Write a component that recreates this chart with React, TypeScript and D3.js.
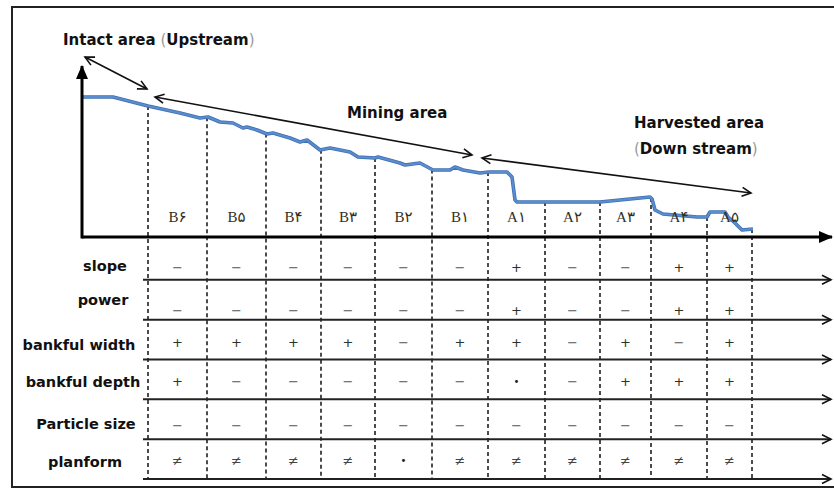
import React, { useEffect, useRef } from 'react';
import * as d3 from 'd3';

// river long profile (relative distance / relative elevation)
const profileDistance = [0, 31, 66, 98, 118, 126, 138, 151, 161, 165, 175, 185, 191, 208, 218, 225, 238, 248, 268, 276, 293, 296, 318, 323, 338, 351, 368, 373, 381, 398, 407, 425, 430, 433, 435, 463, 518, 568, 570, 573, 581, 615, 625, 628, 643, 646, 653, 660, 671];
const profileElevation = [140, 140, 131, 124, 119, 120, 115, 114, 109, 110, 107, 103, 104, 99, 95, 97, 87, 89, 85, 80, 79, 80, 74, 72, 74, 67, 67, 70, 67, 64, 65, 65, 60, 37, 35, 35, 35, 40, 38, 27, 23, 20, 20, 25, 25, 20, 14, 7, 8];

const sectionBounds = [66, 125, 184, 239, 293, 350, 406, 463, 518, 569, 625, 670];
const sections = ['B۶', 'B۵', 'B۴', 'B۳', 'B۲', 'B۱', 'A۱', 'A۲', 'A۳', 'A۴', 'A۵'];

const rowLabels = ['slope', 'power', 'bankful width', 'bankful depth', 'Particle size', 'planform'];
const slope = ['−', '−', '−', '−', '−', '−', '+', '−', '−', '+', '+'];
const power = ['−', '−', '−', '−', '−', '−', '+', '−', '−', '+', '+'];
const bankfulWidth = ['+', '+', '+', '+', '−', '+', '+', '−', '+', '−', '+'];
const bankfulDepth = ['+', '−', '−', '−', '−', '−', '•', '−', '+', '+', '+'];
const particleSize = ['−', '−', '−', '−', '−', '−', '−', '−', '−', '−', '−'];
const planform = ['≠', '≠', '≠', '≠', '•', '≠', '≠', '≠', '≠', '≠', '≠'];

const W = 834;
const H = 488;
const FONT = '"DejaVu Sans", Verdana, sans-serif';

const App = () => {
  const ref = useRef<SVGSVGElement>(null);

  useEffect(() => {
    const svg = d3.select(ref.current);
    svg.selectAll('*').remove();

    const x = d3.scaleLinear().domain([0, 750]).range([82, 832]);
    const y = d3.scaleLinear().domain([0, 171]).range([237, 66]);
    const rows = d3.scaleBand().domain(rowLabels).range([240, 479]);
    const cells = [slope, power, bankfulWidth, bankfulDepth, particleSize, planform];
    const labelCentre = [105, 103, 79, 83, 86, 85];
    const labelNudge = [11, 5, 10, 8, 10, 8];
    const symbolNudge = [8, 11, 3, 2, 6, 1];

    const elevAt = (d: number) => {
      const i = d3.bisectLeft(profileDistance, d);
      if (i <= 0) return profileElevation[0];
      if (i >= profileDistance.length) return profileElevation[profileElevation.length - 1];
      const t = (d - profileDistance[i - 1]) / (profileDistance[i] - profileDistance[i - 1]);
      return profileElevation[i - 1] + t * (profileElevation[i] - profileElevation[i - 1]);
    };

    const defs = svg.append('defs');
    defs.append('marker').attr('id', 'solid').attr('markerUnits', 'userSpaceOnUse')
      .attr('markerWidth', 14).attr('markerHeight', 12).attr('refX', 13).attr('refY', 6)
      .attr('orient', 'auto')
      .append('path').attr('d', 'M0,0 L14,6 L0,12 Z').attr('fill', '#000');
    defs.append('marker').attr('id', 'open').attr('markerUnits', 'userSpaceOnUse')
      .attr('markerWidth', 12).attr('markerHeight', 12).attr('refX', 10).attr('refY', 6)
      .attr('orient', 'auto-start-reverse')
      .append('path').attr('d', 'M1,1.5 L10,6 L1,10.5').attr('fill', 'none')
      .attr('stroke', '#111').attr('stroke-width', 1.6);

    svg.append('rect').attr('width', W).attr('height', H).attr('fill', '#fff');
    svg.append('rect').attr('x', 12).attr('y', 7).attr('width', 840).attr('height', 480)
      .attr('fill', 'none').attr('stroke', '#222').attr('stroke-width', 2);

    // section boundaries
    svg.append('g').selectAll('line').data(sectionBounds).enter().append('line')
      .attr('x1', (d) => x(d)).attr('x2', (d) => x(d))
      .attr('y1', (d) => y(elevAt(d))).attr('y2', 479)
      .attr('stroke', '#111').attr('stroke-width', 1.5).attr('stroke-dasharray', '4,3');

    // table row arrows
    svg.append('g').selectAll('line').data(rowLabels).enter().append('line')
      .attr('x1', 143).attr('x2', 831)
      .attr('y1', (d) => (rows(d) as number) + rows.bandwidth())
      .attr('y2', (d) => (rows(d) as number) + rows.bandwidth())
      .attr('stroke', '#222').attr('stroke-width', 2).attr('marker-end', 'url(#open)');

    // profile
    const line = d3.line<number>().x((d) => x(d)).y((d, i) => y(profileElevation[i]));
    svg.append('path').datum(profileDistance).attr('d', line)
      .attr('fill', 'none').attr('stroke', '#3f6fae').attr('stroke-width', 3.6)
      .attr('stroke-linejoin', 'round');
    svg.append('path').datum(profileDistance).attr('d', line)
      .attr('fill', 'none').attr('stroke', '#5a8dd0').attr('stroke-width', 2)
      .attr('stroke-linejoin', 'round');

    // axes
    svg.append('line').attr('x1', 82).attr('x2', 832).attr('y1', y(0)).attr('y2', y(0))
      .attr('stroke', '#000').attr('stroke-width', 3).attr('marker-end', 'url(#solid)');
    svg.append('line').attr('x1', 82).attr('x2', 82).attr('y1', y(0) + 1.5).attr('y2', y(171))
      .attr('stroke', '#000').attr('stroke-width', 3).attr('marker-end', 'url(#solid)');

    // section labels
    svg.append('g').selectAll('text').data(sections).enter().append('text')
      .attr('x', (d, i) => (x(sectionBounds[i]) + x(sectionBounds[i + 1])) / 2)
      .attr('y', 222).attr('text-anchor', 'middle')
      .attr('font-family', '"Liberation Serif", "DejaVu Serif", "DejaVu Sans", serif')
      .attr('font-size', 15).attr('fill', '#33301f').text((d) => d);

    // row labels
    svg.append('g').selectAll('text').data(rowLabels).enter().append('text')
      .attr('x', (d, i) => labelCentre[i])
      .attr('y', (d, i) => (rows(d) as number) + rows.bandwidth() / 2 + labelNudge[i])
      .attr('text-anchor', 'middle').attr('font-family', FONT).attr('font-weight', 'bold')
      .attr('font-size', 14.5).attr('fill', '#111').text((d) => d);

    // cell symbols
    const colour: Record<string, string> = { '−': '#555', '+': '#2a332a', '≠': '#444', '•': '#222' };
    cells.forEach((vals, r) => {
      const cy = (rows(rowLabels[r]) as number) + rows.bandwidth() / 2 + symbolNudge[r];
      svg.append('g').selectAll('text').data(vals).enter().append('text')
        .attr('x', (d, i) => (x(sectionBounds[i]) + x(sectionBounds[i + 1])) / 2)
        .attr('y', cy).attr('dominant-baseline', 'central').attr('text-anchor', 'middle')
        .attr('font-family', FONT).attr('font-size', (d) => (d === '•' ? 10 : 13))
        .attr('fill', (d) => colour[d]).text((d) => d);
    });

    // zone arrows
    const zones = [
      [[3, 180], [65, 148]],
      [[73, 140], [390, 82]],
      [[400, 79], [669, 44]],
    ];
    svg.append('g').selectAll('line').data(zones).enter().append('line')
      .attr('x1', (d) => x(d[0][0])).attr('y1', (d) => y(d[0][1]))
      .attr('x2', (d) => x(d[1][0])).attr('y2', (d) => y(d[1][1]))
      .attr('stroke', '#111').attr('stroke-width', 1.6)
      .attr('marker-start', 'url(#open)').attr('marker-end', 'url(#open)');

    const note = (tx: number, ty: number, main: string, paren?: string, before = false) => {
      const t = svg.append('text').attr('x', tx).attr('y', ty)
        .attr('font-family', FONT).attr('font-weight', 'bold').attr('font-size', 15).attr('fill', '#111');
      if (paren && before) {
        t.append('tspan').attr('font-weight', 'normal').attr('fill', '#999').text('(');
        t.append('tspan').text(main);
        t.append('tspan').attr('font-weight', 'normal').attr('fill', '#999').text(')');
      } else {
        t.append('tspan').text(main);
        if (paren) {
          t.append('tspan').attr('font-weight', 'normal').attr('fill', '#999').text(' (');
          t.append('tspan').text(paren);
          t.append('tspan').attr('font-weight', 'normal').attr('fill', '#999').text(')');
        }
      }
    };
    note(63, 45, 'Intact area', 'Upstream');
    note(347, 118, 'Mining area');
    note(634, 128, 'Harvested area');
    note(634, 154, 'Down stream', 'x', true);
  }, []);

  return (
    <svg ref={ref} width={W} height={H} style={{ position: 'absolute', left: 0, top: 0 }} />
  );
};

export default App;
